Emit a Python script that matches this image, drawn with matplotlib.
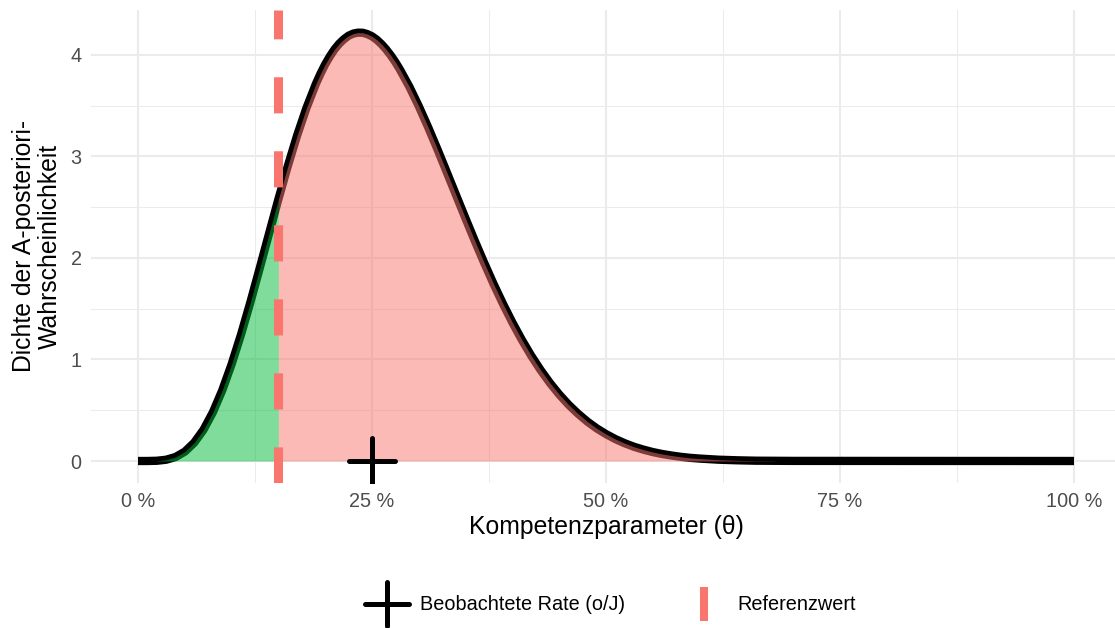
import numpy as np
import matplotlib
matplotlib.use("Agg")
import matplotlib.pyplot as plt
from matplotlib.lines import Line2D
from matplotlib.markers import MarkerStyle

plt.rcParams['font.family'] = ['Liberation Sans', 'DejaVu Sans']

# ---- data ----
theta = [0.00, 0.01, 0.02, 0.03, 0.04, 0.05, 0.06, 0.07, 0.08, 0.09,
         0.10, 0.11, 0.12, 0.13, 0.14, 0.15, 0.16, 0.17, 0.18, 0.19,
         0.195, 0.20, 0.205, 0.21, 0.215, 0.22, 0.225, 0.23, 0.235, 0.24,
         0.245, 0.25, 0.255, 0.26, 0.265, 0.27, 0.275, 0.28, 0.29,
         0.30, 0.31, 0.32, 0.33, 0.34, 0.35, 0.36, 0.37, 0.38, 0.39,
         0.40, 0.41, 0.42, 0.43, 0.44, 0.45, 0.46, 0.47, 0.48, 0.49,
         0.50, 0.51, 0.52, 0.53, 0.54, 0.55, 0.56, 0.57, 0.58, 0.59,
         0.60, 0.62, 0.64, 0.66, 0.68, 0.70, 1.00]
density = [0.0, 0.0001, 0.0023, 0.0125, 0.039, 0.092, 0.180, 0.308, 0.480, 0.696,
           0.953, 1.244, 1.562, 1.898, 2.240, 2.579, 2.904, 3.207, 3.479, 3.714,
           3.816, 3.908, 3.987, 4.056, 4.112, 4.156, 4.190, 4.211, 4.220, 4.219,
           4.206, 4.184, 4.151, 4.108, 4.057, 3.997, 3.930, 3.854, 3.686,
           3.495, 3.288, 3.069, 2.843, 2.615, 2.388, 2.165, 1.949, 1.742, 1.547,
           1.364, 1.195, 1.039, 0.898, 0.770, 0.656, 0.555, 0.467, 0.389, 0.322,
           0.265, 0.216, 0.175, 0.140, 0.112, 0.088, 0.069, 0.054, 0.041, 0.031,
           0.024, 0.013, 0.007, 0.003, 0.002, 0.001, 0.0]
green_range = [0.02, 0.15]
pink_range = [0.15, 0.68]
observed_rate = 0.25
reference_value = 0.15
x_ticks = [0.0, 0.25, 0.5, 0.75, 1.0]
x_ticklabels = ["0 %", "25 %", "50 %", "75 %", "100 %"]
y_ticks = [0, 1, 2, 3, 4]
legend_labels = ["Beobachtete Rate (o/J)", "Referenzwert"]

# ---- styling ----
W, H = 1115, 628
fig = plt.figure(figsize=(W / 100, H / 100), dpi=100)
left_px, right_px, top_px, bot_px = 91.2, 1120.8, 10.0, 482.6
ax = fig.add_axes([left_px / W, 1 - bot_px / H, (right_px - left_px) / W, (bot_px - top_px) / H])

red = "#F8766D"
green = "#00BA38"
grid_col = "#EBEBEB"
txt_col = "#4D4D4D"
tick_fs = 14.3
title_fs = 17.8
legend_fs = 14.3

ax.set_xlim(-0.05, 1.05)
ax.set_ylim(-0.2128, 4.4433)

for s in ax.spines.values():
    s.set_visible(False)

ax.set_xticks(x_ticks)
ax.set_xticklabels(x_ticklabels)
ax.set_yticks(y_ticks)
ax.set_xticks([0.125, 0.375, 0.625, 0.875], minor=True)
ax.set_yticks([0.5, 1.5, 2.5, 3.5], minor=True)
ax.tick_params(axis='both', which='both', length=0)
ax.tick_params(axis='both', which='major', labelsize=tick_fs, labelcolor=txt_col, pad=6.9)
ax.grid(True, which='major', color=grid_col, linewidth=1.5)
ax.grid(True, which='minor', color=grid_col, linewidth=0.75)
ax.set_axisbelow(True)

t = np.array(theta)
d = np.array(density)

ax.plot(t, d, color="black", linewidth=6.0, solid_capstyle='butt', solid_joinstyle='round', zorder=2)

gmask = (t >= green_range[0]) & (t <= green_range[1])
pmask = (t >= pink_range[0]) & (t <= pink_range[1])
ax.fill_between(t, 0, d, where=gmask, color=green, alpha=0.5, linewidth=0, zorder=3)
ax.fill_between(t, 0, d, where=pmask, color=red, alpha=0.5, linewidth=0, zorder=3)

ax.axvline(reference_value, color=red, linewidth=6.5, linestyle=(0, (4, 4.2)),
           dash_capstyle='butt', zorder=4)

plus = MarkerStyle('+', capstyle='round')
ax.plot([observed_rate], [0], linestyle='None', marker=plus, markersize=33,
        markeredgewidth=3.6, color='black', zorder=5)

ax.set_xlabel("Kompetenzparameter (\u03b8)", fontsize=title_fs, color='black', labelpad=3)
ax.set_ylabel("Dichte der A-posteriori-\nWahrscheinlichkeit", fontsize=title_fs, color='black',
              labelpad=6, multialignment='center', linespacing=1.1)

h1 = Line2D([], [], linestyle='None', marker=MarkerStyle('+', capstyle='round'),
            markersize=31, markeredgewidth=3.6, color='black')
h2 = Line2D([], [], linestyle='None', marker='|', markersize=24.5,
            markeredgewidth=5.8, color=red)
fig.legend([h1, h2], legend_labels, loc='center', bbox_to_anchor=(609 / W, 1 - 605 / H),
           ncol=2, frameon=False, fontsize=legend_fs, handlelength=2.5, handletextpad=0.41,
           columnspacing=2.7, borderpad=0, borderaxespad=0)

fig.savefig("out.png", dpi=100)
